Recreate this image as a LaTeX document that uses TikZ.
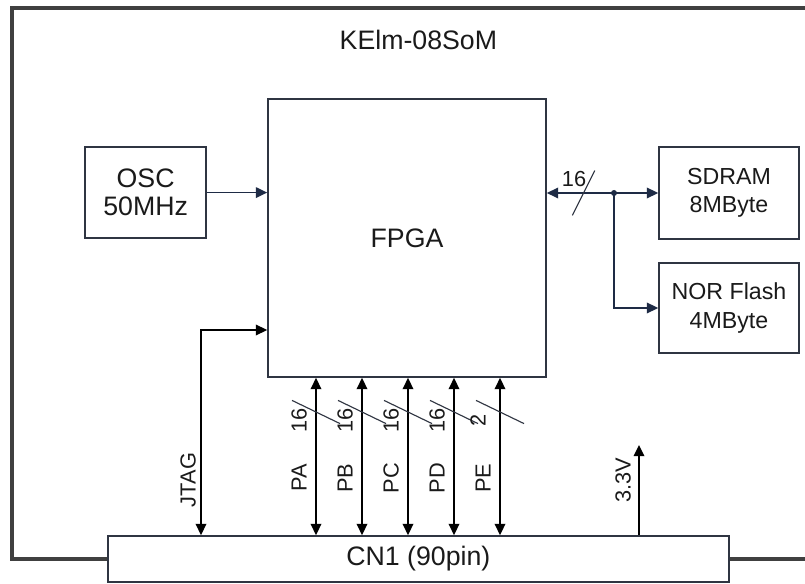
\documentclass[tikz,border=0pt]{standalone}
\usepackage{fontspec}
\setsansfont{Liberation Sans}
\usepackage{tikz}
\usetikzlibrary{arrows.meta}
\definecolor{somfg}{HTML}{1A1A1A}
\definecolor{somwire}{HTML}{1E2B45}
\definecolor{somline}{HTML}{2F3542}
\definecolor{somframe}{HTML}{404040}

\begin{document}
\begin{tikzpicture}[x=1cm,y=1cm,>={Triangle[length=8pt,width=7.5pt]},font=\sffamily,text=somfg]
  \tikzstyle{block}=[draw=somline, line width=1.2pt, fill=white, align=center, inner sep=0pt, font=\fontsize{19}{20}\selectfont\sffamily]
  \tikzstyle{memory}=[draw=somline, line width=1.2pt, fill=white, align=center, inner sep=0pt, font=\fontsize{16.5}{20}\selectfont\sffamily]
  \tikzstyle{arrow}=[->, line width=1.2pt, draw=somwire]
  \tikzstyle{both}=[<->, line width=1.2pt, draw=black]
  \tikzstyle{bus}=[<->, line width=1.2pt, draw=somwire]
  \tikzstyle{slash}=[line width=0.8pt, draw=somline]
  \tikzstyle{tag}=[font=\fontsize{15.5}{18}\selectfont\sffamily, rotate=90, inner sep=0pt]
  \tikzstyle{label}=[font=\fontsize{15.5}{18}\selectfont\sffamily, inner sep=0pt]
  \tikzstyle{title}=[font=\fontsize{19}{22}\selectfont\sffamily]
  \tikzstyle{frame}=[line width=2.6pt, draw=somframe]

  \path[use as bounding box] (0,0) rectangle (20.125,14.575);

  \node[block, minimum width=15.52cm, minimum height=1.15cm] (cn1) at (10.46,0.60) {CN1 (90pin)};
  \draw[frame] (cn1.west) -- (0.30,0.60) -- (0.30,14.375) -- (20.40,14.375) -- (20.40,0.60) -- (cn1.east);
  \node[title] (som) at (10.46,13.575) {KElm-08SoM};

  \node[block, minimum width=6.95cm, minimum height=6.95cm] (fpga) at (10.175,8.625) {FPGA};
  \node[block, minimum width=3.03cm, minimum height=2.27cm] (osc) at (3.64,9.76) {OSC\\50MHz};
  \node[memory, minimum width=3.50cm, minimum height=2.30cm] (sdram) at (18.225,9.75) {SDRAM\\8MByte};
  \node[memory, minimum width=3.50cm, minimum height=2.25cm] (nor) at (18.225,6.875) {NOR Flash\\4MByte};

  \draw[arrow] (osc.east) -- (fpga.west |- osc.east);

  % memory bus
  \coordinate (bus) at (14.59,9.75);
  \coordinate (tap) at (15.35,9.75);
  \draw[bus] (fpga.east |- sdram.west) -- (sdram.west);
  \draw[slash] (bus) +(-0.28,-0.56) -- +(0.28,0.56);
  \node[label] (busw) at (14.35,10.09) {16};
  \fill[somwire] (tap) circle (0.075);
  \draw[arrow] (tap) |- (nor.west);

  % jtag and supply
  \coordinate (jtag) at (5.025,6.325);
  \draw[both] (cn1.north -| jtag) -- (jtag) -- (fpga.west |- jtag);
  \node[tag] (jtagl) at (4.70,2.575) {JTAG};
  \coordinate (vcc) at (15.975,3.45);
  \draw[->, line width=1.2pt, draw=black] (cn1.north -| vcc) -- (vcc);
  \node[tag] (vccl) at (15.575,2.575) {3.3V};

  % port buses
  \coordinate (pa) at (7.90,4.275);
  \draw[both] (fpga.south -| pa) -- (cn1.north -| pa);
  \draw[slash] (pa) +(-0.6,0.29) -- +(0.6,-0.29);
  \node[tag] (paw) at (7.48,4.075) {16};
  \node[tag] (pal) at (7.48,2.625) {PA};

  \coordinate (pb) at (9.05,4.275);
  \draw[both] (fpga.south -| pb) -- (cn1.north -| pb);
  \draw[slash] (pb) +(-0.6,0.29) -- +(0.6,-0.29);
  \node[tag] (pbw) at (8.63,4.075) {16};
  \node[tag] (pbl) at (8.63,2.625) {PB};

  \coordinate (pc) at (10.20,4.275);
  \draw[both] (fpga.south -| pc) -- (cn1.north -| pc);
  \draw[slash] (pc) +(-0.6,0.29) -- +(0.6,-0.29);
  \node[tag] (pcw) at (9.78,4.075) {16};
  \node[tag] (pcl) at (9.78,2.625) {PC};

  \coordinate (pd) at (11.35,4.275);
  \draw[both] (fpga.south -| pd) -- (cn1.north -| pd);
  \draw[slash] (pd) +(-0.6,0.29) -- +(0.6,-0.29);
  \node[tag] (pdw) at (10.93,4.075) {16};
  \node[tag] (pdl) at (10.93,2.625) {PD};

  \coordinate (pe) at (12.50,4.275);
  \draw[both] (fpga.south -| pe) -- (cn1.north -| pe);
  \draw[slash] (pe) +(-0.6,0.29) -- +(0.6,-0.29);
  \node[tag] (pew) at (11.95,4.075) {2};
  \node[tag] (pel) at (12.08,2.625) {PE};
\end{tikzpicture}
\end{document}
